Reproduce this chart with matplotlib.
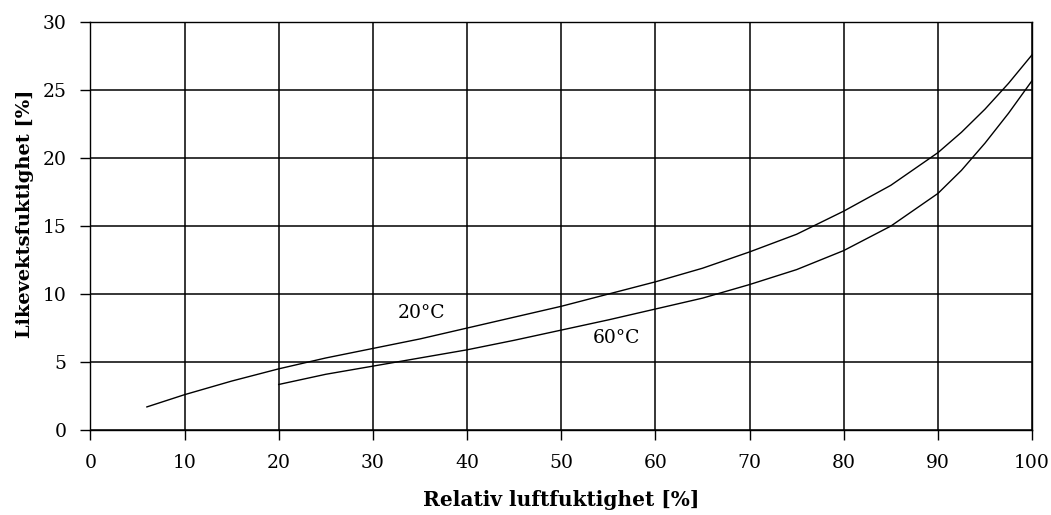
import matplotlib.pyplot as plt

plt.rcParams.update({
    'font.family': ['DejaVu Serif'], 'font.size': 13.5,
    'xtick.direction': 'out', 'ytick.direction': 'out',
})

# Relative humidity [%] and equilibrium moisture content [%]
rh_20 = [6, 10, 15, 20, 25, 30, 35, 40, 45, 50, 55, 60, 65, 70, 75, 80, 85, 90,
         92.5, 95, 97.5, 100]
emc_20 = [1.7, 2.6, 3.6, 4.5, 5.3, 6.0, 6.7, 7.5, 8.3, 9.1, 10.0, 10.9, 11.9, 13.1,
          14.4, 16.1, 18.0, 20.4, 21.9, 23.6, 25.5, 27.6]
rh_60 = [20, 25, 30, 35, 40, 45, 50, 55, 60, 65, 70, 75, 80, 85, 90, 92.5, 95,
         97.5, 100]
emc_60 = [3.35, 4.1, 4.7, 5.3, 5.9, 6.6, 7.35, 8.1, 8.9, 9.7, 10.7, 11.8, 13.2,
          15.0, 17.4, 19.1, 21.1, 23.3, 25.7]

fig, ax = plt.subplots(figsize=(10.51, 5.15), dpi=100)
fig.subplots_adjust(left=0.086, right=0.982, top=0.957, bottom=0.165)

ax.plot(rh_20, emc_20, color='black', lw=1.0)
ax.plot(rh_60, emc_60, color='black', lw=1.0)

ax.text(32.6, 8.6, '20°C', va='center', ha='left')
ax.text(53.3, 6.8, '60°C', va='center', ha='left')

ax.set_xlim(0, 100)
ax.set_ylim(0, 30)
ax.set_xticks(range(0, 101, 10))
ax.set_yticks(range(0, 31, 5))
ax.grid(True, color='black', lw=1.1)
ax.set_axisbelow(True)
ax.tick_params(length=7, width=1, pad=10)
for s in ax.spines.values():
    s.set_color('black')
    s.set_linewidth(1.0)

ax.set_xlabel('Relativ luftfuktighet [%]', fontweight='bold', fontsize=14.5)
ax.set_ylabel('Likevektsfuktighet [%]', fontweight='bold', fontsize=14)
ax.xaxis.set_label_coords(0.5, -0.148)
ax.yaxis.set_label_coords(-0.06, 0.53)

plt.savefig('out.png', dpi=100)
